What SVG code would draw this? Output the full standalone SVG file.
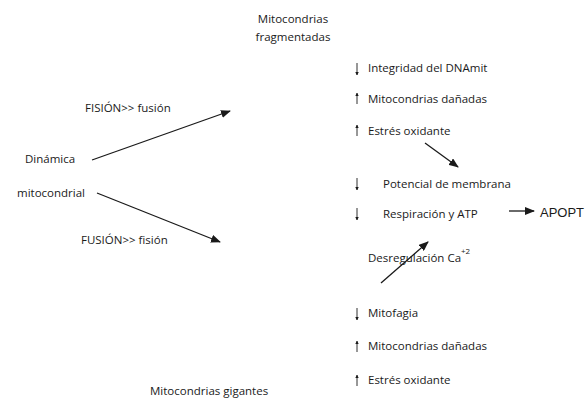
<svg xmlns="http://www.w3.org/2000/svg" width="586" height="399" viewBox="0 0 586 399">
  <defs>
    <style>
      text { font-family: "Open Sans", "Noto Sans", sans-serif; font-size: 11.5px; fill: #1a1a1a; }
      .big { font-family: "Liberation Sans", Arial, sans-serif; font-size: 13px; }
      .conn { stroke: #1a1a1a; stroke-width: 1.3; fill: none; }
      .tick { stroke: #1a1a1a; stroke-width: 0.9; fill: none; }
    </style>
    <marker id="head" viewBox="0 0 10 8" refX="9" refY="4" markerWidth="10" markerHeight="8" markerUnits="userSpaceOnUse" orient="auto">
      <path d="M0,0 L10,4 L0,8 Z" fill="#1a1a1a"/>
    </marker>
    <marker id="tiny" viewBox="0 0 4 4" refX="3.5" refY="2" markerWidth="3.5" markerHeight="3.5" markerUnits="userSpaceOnUse" orient="auto">
      <path d="M0,0 L4,2 L0,4 Z" fill="#1a1a1a"/>
    </marker>
  </defs>

  <rect width="586" height="399" fill="#ffffff"/>

  <!-- left: dynamics -->
  <g id="dinamica">
    <text x="25" y="163">Dinámica</text>
    <text x="17" y="197">mitocondrial</text>
  </g>
  <g id="fision-label">
    <text x="85" y="112">FISIÓN&gt;&gt; fusión</text>
  </g>
  <g id="fusion-label">
    <text x="81" y="244">FUSIÓN&gt;&gt; fisión</text>
  </g>

  <!-- fragmented branch -->
  <g id="fragmentadas" text-anchor="middle">
    <text x="293" y="23">Mitocondrias</text>
    <text x="293" y="41">fragmentadas</text>
  </g>
  <g id="efectos-fision">
    <path class="tick" d="M357,63 V75" marker-end="url(#tiny)"/>
    <text x="368" y="72">Integridad del DNAmit</text>
    <path class="tick" d="M357,104 V93" marker-end="url(#tiny)"/>
    <text x="368" y="103">Mitocondrias dañadas</text>
    <path class="tick" d="M357,136 V125" marker-end="url(#tiny)"/>
    <text x="368" y="135">Estrés oxidante</text>
  </g>
  <g id="consecuencias">
    <path class="tick" d="M357,178 V190" marker-end="url(#tiny)"/>
    <text x="383" y="188">Potencial de membrana</text>
    <path class="tick" d="M357,208 V220" marker-end="url(#tiny)"/>
    <text x="383" y="218">Respiración y ATP</text>
    <text x="368" y="262">Desregulación Ca<tspan dy="-8" font-size="8">+2</tspan></text>
  </g>
  <g id="apoptosis">
    <text class="big" x="540" y="217">APOPT</text>
  </g>

  <!-- giant branch -->
  <g id="efectos-fusion">
    <path class="tick" d="M357,308 V320" marker-end="url(#tiny)"/>
    <text x="368" y="317">Mitofagia</text>
    <path class="tick" d="M357,352 V341" marker-end="url(#tiny)"/>
    <text x="368" y="350">Mitocondrias dañadas</text>
    <path class="tick" d="M357,386 V375" marker-end="url(#tiny)"/>
    <text x="368" y="384">Estrés oxidante</text>
  </g>
  <g id="gigantes">
    <text x="150" y="395">Mitocondrias gigantes</text>
  </g>

  <!-- connectors -->
  <g id="connectors">
    <path class="conn" d="M92,160 L230,111" marker-end="url(#head)"/>
    <path class="conn" d="M97,193 L220,242" marker-end="url(#head)"/>
    <path class="conn" d="M425,143 L458,167" marker-end="url(#head)"/>
    <path class="conn" d="M381,283 L428,242" marker-end="url(#head)"/>
    <path class="conn" d="M509,211 L534,211" marker-end="url(#head)"/>
  </g>
</svg>
